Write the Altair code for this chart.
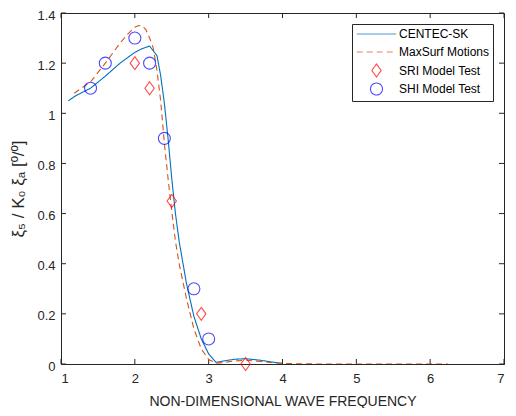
import altair as alt
import pandas as pd

SERIES = ["CENTEC-SK", "MaxSurf Motions", "SRI Model Test", "SHI Model Test"]

centec_x = [1.1, 1.2, 1.4, 1.6, 1.8, 2.0, 2.1, 2.2, 2.3, 2.35, 2.4, 2.45, 2.5, 2.55, 2.6, 2.7, 2.8, 2.9, 3.0, 3.1, 3.2, 3.35, 3.5, 3.7, 3.9, 4.0]
centec_y = [1.05, 1.07, 1.10, 1.148, 1.20, 1.243, 1.258, 1.268, 1.23, 1.15, 1.04, 0.90, 0.74, 0.60, 0.49, 0.32, 0.19, 0.10, 0.04, 0.006, 0.012, 0.019, 0.021, 0.015, 0.006, 0.003]

maxsurf_x = [1.18, 1.3, 1.4, 1.6, 1.8, 1.9, 2.0, 2.05, 2.1, 2.15, 2.2, 2.25, 2.3, 2.35, 2.4, 2.45, 2.5, 2.55, 2.6, 2.7, 2.8, 2.9, 3.0, 3.1, 3.2, 3.35, 3.5, 3.7, 3.9, 4.0, 4.5, 5.0, 5.5, 6.0, 6.24]
maxsurf_y = [1.08, 1.105, 1.125, 1.20, 1.28, 1.315, 1.343, 1.35, 1.348, 1.334, 1.30, 1.26, 1.17, 1.05, 0.88, 0.74, 0.61, 0.49, 0.40, 0.26, 0.14, 0.06, 0.018, 0.003, 0.006, 0.012, 0.015, 0.01, 0.004, 0.002, 0.0, 0.0, 0.0, 0.0, 0.0]

sri_x = [2.0, 2.2, 2.5, 2.9, 3.5]
sri_y = [1.2, 1.1, 0.65, 0.2, 0.0]

shi_x = [1.4, 1.6, 2.0, 2.2, 2.4, 2.8, 3.0]
shi_y = [1.1, 1.2, 1.3, 1.2, 0.9, 0.3, 0.1]

x_ticks = [1, 2, 3, 4, 5, 6, 7]
y_ticks = [0, 0.2, 0.4, 0.6, 0.8, 1.0, 1.2, 1.4]

lines_df = pd.concat([
    pd.DataFrame({"x": centec_x, "y": centec_y, "series": SERIES[0]}),
    pd.DataFrame({"x": maxsurf_x, "y": maxsurf_y, "series": SERIES[1]}),
])
pts_df = pd.concat([
    pd.DataFrame({"x": sri_x, "y": sri_y, "series": SERIES[2]}),
    pd.DataFrame({"x": shi_x, "y": shi_y, "series": SERIES[3]}),
])
xt_df = pd.DataFrame({"v": x_ticks})
yt_df = pd.DataFrame({"v": y_ticks})

W, H = 443, 351
AX = "#262626"
FONT = "Liberation Sans"
DIAMOND = "M0,-1L0.72,0L0,1L-0.72,0Z"
LINE = "M-3.3,0H3.3M0,-1M0,1"

xs = alt.Scale(domain=[1, 7], nice=False, zero=False)
ys = alt.Scale(domain=[0, 1.4], nice=False, zero=False)

color_scale = alt.Scale(domain=SERIES, range=["#0072BD", "#D95319", "#FF0000", "#0000FF"])
dash_scale = alt.Scale(domain=SERIES, range=[[1, 0], [6, 4], [1, 0], [1, 0]])
shape_scale = alt.Scale(domain=SERIES, range=[LINE, LINE, DIAMOND, "circle"])
size_scale = alt.Scale(type="ordinal", domain=SERIES, range=[144, 144, 169, 144])

x_enc = alt.X("x:Q", scale=xs, axis=alt.Axis(
    values=x_ticks, ticks=False, grid=False, title="NON-DIMENSIONAL WAVE FREQUENCY",
    labelPadding=8, titlePadding=9, format="d"))
y_enc = alt.Y("y:Q", scale=ys, axis=alt.Axis(
    values=y_ticks, ticks=False, grid=False, title="ξ₅ / K₀ ξₐ [º/º]",
    labelPadding=6, labelOffset=2, titlePadding=9, titleFontSize=17,
    labelExpr="format(datum.value, '~g')"))

leg = alt.Legend(title=None, symbolOffset=14, labelOffset=15)

lines = alt.Chart(lines_df).mark_line(strokeWidth=1.1, clip=True).encode(
    x=x_enc, y=y_enc,
    color=alt.Color("series:N", scale=color_scale, legend=leg),
    strokeDash=alt.StrokeDash("series:N", scale=dash_scale, legend=leg),
    detail="series:N",
)

points = alt.Chart(pts_df).mark_point(filled=False, strokeWidth=1.1).encode(
    x=alt.X("x:Q", scale=xs),
    y=alt.Y("y:Q", scale=ys),
    color=alt.Color("series:N", scale=color_scale, legend=leg),
    shape=alt.Shape("series:N", scale=shape_scale, legend=leg),
    size=alt.Size("series:N", scale=size_scale, legend=None),
)

tick_style = dict(color=AX, strokeWidth=1)
xt_bottom = alt.Chart(xt_df).mark_rule(**tick_style).encode(
    x=alt.X("v:Q", scale=xs), y=alt.value(H), y2=alt.value(H - 5))
xt_top = alt.Chart(xt_df).mark_rule(**tick_style).encode(
    x=alt.X("v:Q", scale=xs), y=alt.value(0), y2=alt.value(5))
yt_left = alt.Chart(yt_df).mark_rule(**tick_style).encode(
    y=alt.Y("v:Q", scale=ys), x=alt.value(0), x2=alt.value(5))
yt_right = alt.Chart(yt_df).mark_rule(**tick_style).encode(
    y=alt.Y("v:Q", scale=ys), x=alt.value(W), x2=alt.value(W - 5))

chart = alt.layer(xt_bottom, xt_top, yt_left, yt_right, lines, points).properties(
    width=W, height=H,
    autosize=alt.AutoSizeParams(type="none"),
    padding={"left": 53, "top": 5, "right": 4, "bottom": 44},
).configure_view(
    stroke=AX, strokeWidth=1
).configure_axis(
    domainColor=AX, labelColor=AX, titleColor=AX, labelFont=FONT, titleFont=FONT,
    labelFontSize=13, titleFontSize=14, titleFontWeight="normal", domainWidth=1,
).configure_legend(
    orient="none", legendX=291, legendY=11,
    fillColor="white", strokeColor=AX, padding=3,
    labelFont=FONT, labelFontSize=12, labelColor="#000000",
    rowPadding=0, symbolStrokeWidth=1.1, symbolSize=150, labelLimit=200,
)

chart.save("out.html", embed_options={"renderer": "svg", "actions": False})
